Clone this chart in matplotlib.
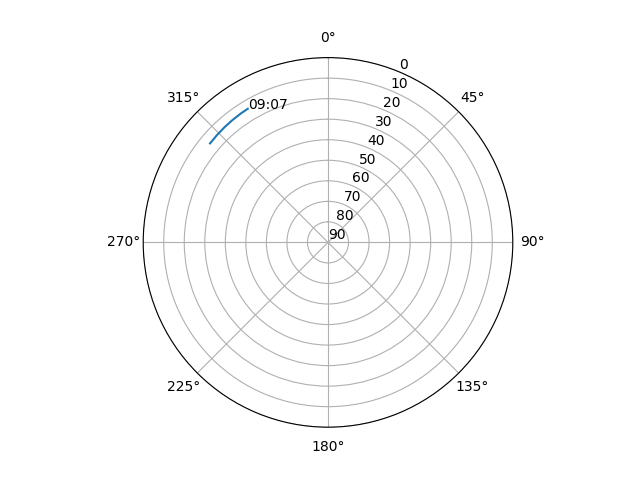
import numpy as np
import matplotlib.pyplot as plt

# satellite track (azimuth in degrees, elevation in degrees)
azimuth = [310, 314, 318, 322, 326, 329]
elevation = [15.0, 14.8, 14.6, 14.4, 14.2, 14.1]
label = "09:07"

fig = plt.figure(figsize=(6.4, 4.8), dpi=100)
ax = fig.add_subplot(111, projection='polar')
ax.set_theta_zero_location('N')
ax.set_theta_direction(-1)

ax.plot(np.radians(azimuth), elevation)
ax.text(np.radians(azimuth[-1]), elevation[-1], label)

ax.set_ylim(90, 0)
ax.set_yticks(range(0, 91, 10))

plt.savefig("out.png")
